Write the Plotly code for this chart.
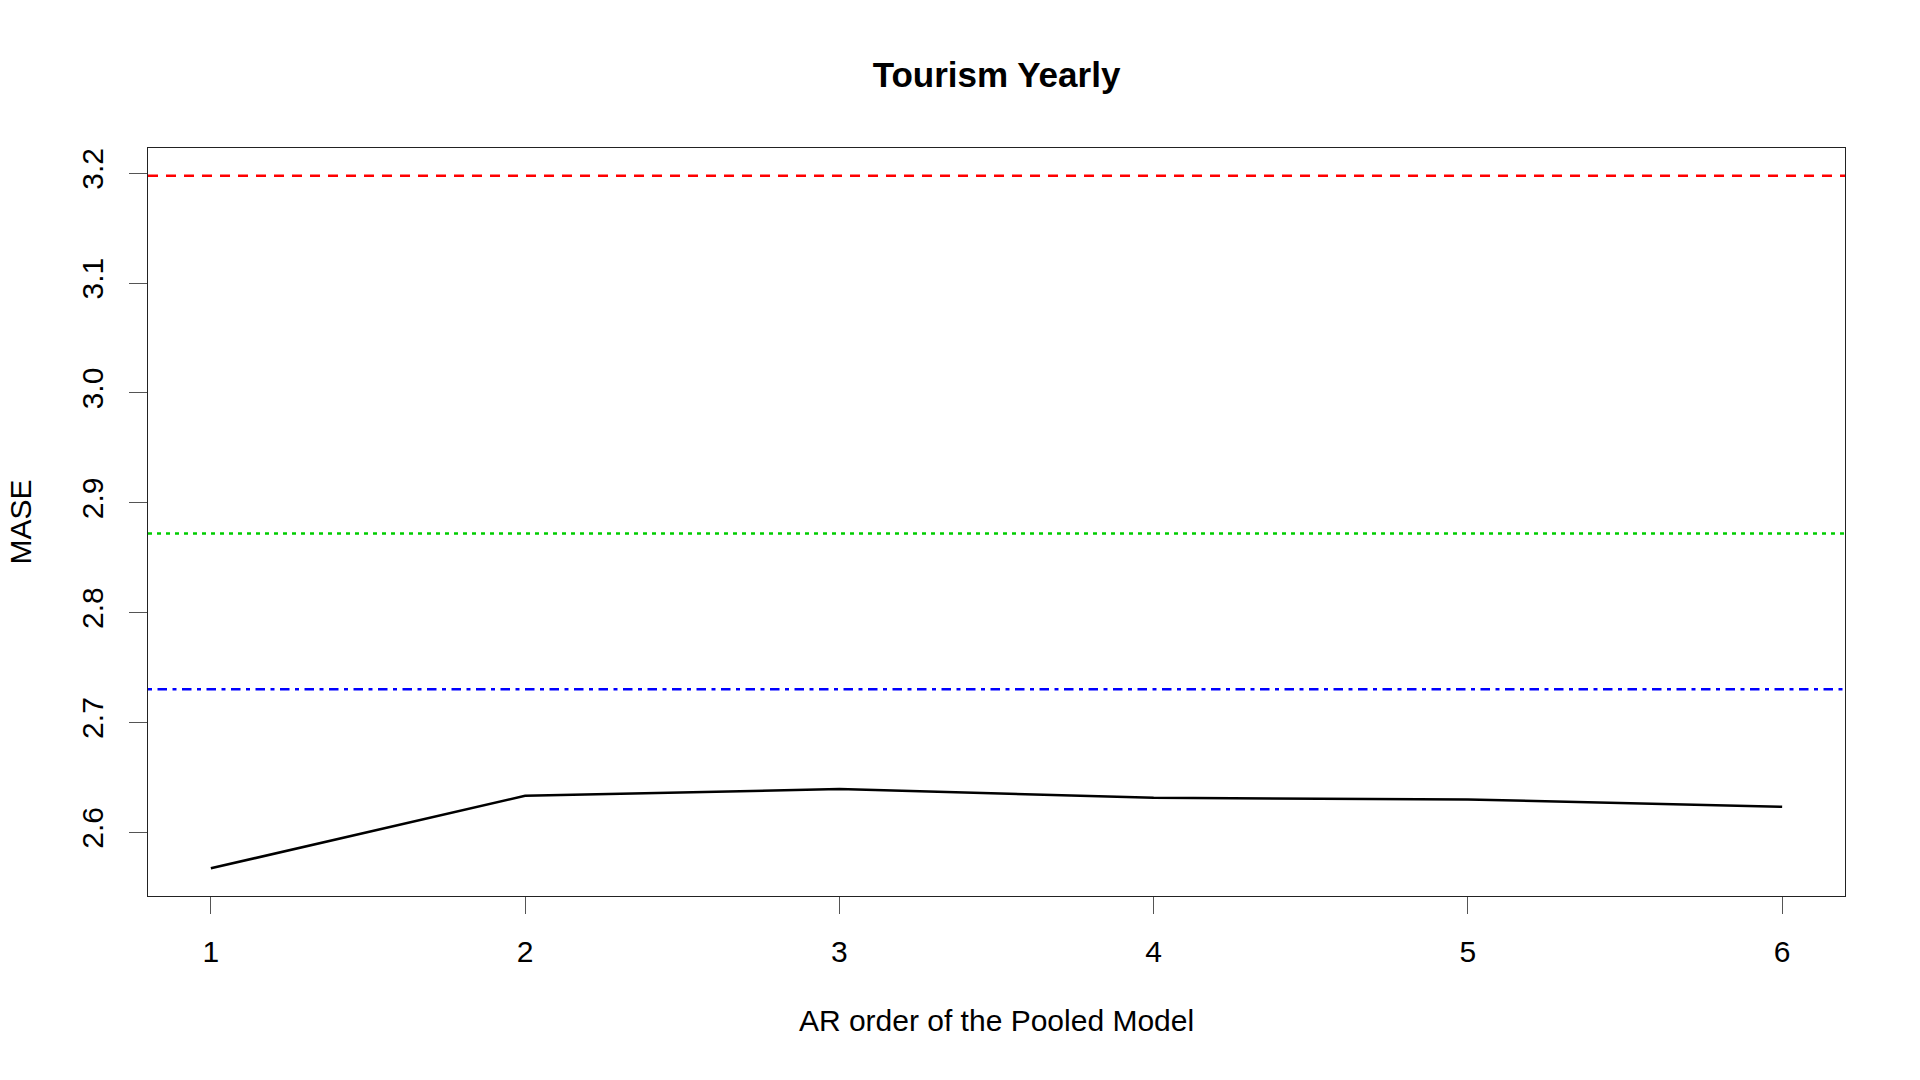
"""Tourism Yearly: MASE by AR order of the pooled model, with reference lines."""

import plotly.graph_objects as go

# AR order of the pooled model and its MASE
ar_order = [1, 2, 3, 4, 5, 6]
mase_pooled = [2.5673, 2.6333, 2.6394, 2.6315, 2.6300, 2.6233]

# benchmark levels drawn as horizontal lines
ref_names = ["red", "green", "blue"]
ref_values = [3.1978, 2.8721, 2.7303]
ref_colors = ["#ff0000", "#00cd00", "#0000ff"]
ref_dashes = ["10px,8px", "4px,5px", "4px,5.5px,9.5px,5.5px"]

x_ticks = [1, 2, 3, 4, 5, 6]
y_ticks = [2.6, 2.7, 2.8, 2.9, 3.0, 3.1, 3.2]
y_tick_text = ["2.6", "2.7", "2.8", "2.9", "3.0", "3.1", "3.2"]

FONT = "Liberation Sans, Arial, Helvetica, sans-serif"

fig = go.Figure()

# reference lines span the whole x range like abline(h=...)
for name, val, color, dash in zip(ref_names, ref_values, ref_colors, ref_dashes):
    fig.add_trace(
        go.Scatter(
            x=[0.8, 6.2],
            y=[val, val],
            mode="lines",
            name=name,
            line=dict(color=color, width=2.5, dash=dash),
            hoverinfo="y",
        )
    )

fig.add_trace(
    go.Scatter(
        x=ar_order,
        y=mase_pooled,
        mode="lines",
        name="Pooled AR",
        line=dict(color="#000000", width=2.5),
    )
)

# R style range: data range padded by 4%
all_y = mase_pooled + ref_values
ymin, ymax = min(all_y), max(all_y)
pad = (ymax - ymin) * 0.04

fig.update_layout(
    width=1920,
    height=1080,
    paper_bgcolor="#ffffff",
    plot_bgcolor="#ffffff",
    showlegend=False,
    font=dict(family=FONT, size=30, color="#000000"),
    margin=dict(l=148, r=75, t=148, b=184, autoexpand=False),
    title=dict(
        text="<b>Tourism Yearly</b>",
        font=dict(family=FONT, size=35, color="#000000"),
        x=0.5,
        xref="paper",
        xanchor="center",
        y=1 - 75 / 1080,
        yref="container",
        yanchor="middle",
    ),
)

fig.update_xaxes(
    range=[0.8, 6.2],
    tickmode="array",
    tickvals=x_ticks,
    ticks="outside",
    ticklen=17,
    tickwidth=1,
    tickcolor="#555555",
    ticklabelstandoff=12,
    showgrid=False,
    zeroline=False,
    showline=True,
    linecolor="#222222",
    linewidth=1,
    mirror=True,
    tickfont=dict(size=30),
    title=dict(text="AR order of the Pooled Model", font=dict(size=30), standoff=42),
    automargin=False,
)

fig.update_yaxes(
    range=[ymin - pad, ymax + pad],
    tickmode="array",
    tickvals=y_ticks,
    ticktext=y_tick_text,
    tickangle=-90,
    ticks="outside",
    ticklen=18,
    tickwidth=1,
    tickcolor="#555555",
    ticklabelstandoff=14,
    showgrid=False,
    zeroline=False,
    showline=True,
    linecolor="#222222",
    linewidth=1,
    mirror=True,
    tickfont=dict(size=30),
    title=dict(text="MASE", font=dict(size=30), standoff=35),
    automargin=False,
)

fig.write_html(
    "out.html",
    config={"displayModeBar": False},
    post_script="document.body.style.margin='0';",
)
